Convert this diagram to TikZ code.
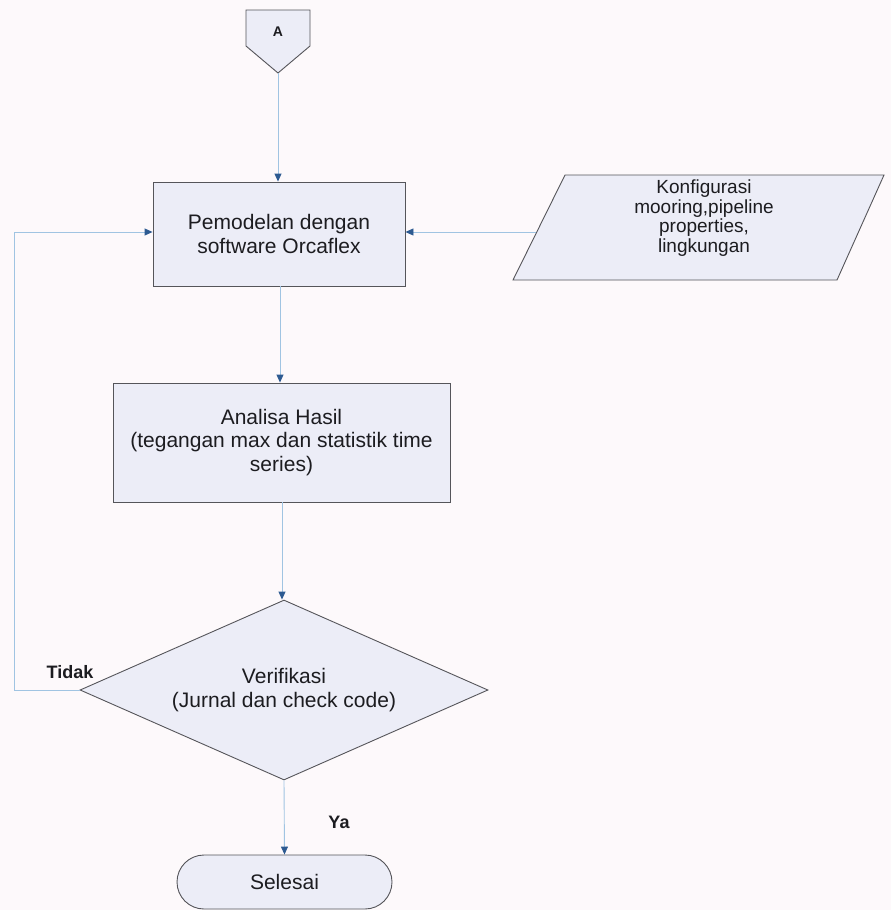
\documentclass[tikz,border=0pt]{standalone}
\usepackage{fontspec}
\setmainfont{Liberation Sans}
\usetikzlibrary{shapes.geometric,arrows.meta}
\definecolor{bgc}{RGB}{253,249,251}
\definecolor{fillc}{RGB}{236,237,247}
\definecolor{edgec}{RGB}{85,85,90}
\definecolor{linec}{RGB}{160,196,226}
\definecolor{tipc}{RGB}{45,90,145}
\definecolor{txtc}{RGB}{28,28,32}
\tikzset{
  x=1pt, y=1pt,
  shapebox/.style={draw=edgec, fill=fillc, line width=0.9pt, text=txtc, align=center, inner sep=0pt},
  procbox/.style={shapebox, rectangle},
  decbox/.style={shapebox, diamond},
  termbox/.style={shapebox, rectangle, rounded corners=27pt},
  bodytext/.style={font=\fontsize{21}{23.5}\selectfont},
  conn/.style={draw=linec, line width=0.9pt, -{Triangle[length=8pt,width=7pt,color=tipc]}},
  plain/.style={draw=linec, line width=0.9pt},
  lbl/.style={text=txtc, font=\bfseries\fontsize{18}{20}\selectfont, inner sep=0pt}
}
\begin{document}
\begin{tikzpicture}
\useasboundingbox (0,0) rectangle (891,-910);
\fill[bgc] (0,0) rectangle (891,-910);

% off-page connector A
\draw[shapebox] (246,-10) -- (310,-10) -- (310,-46) -- (278,-73) -- (246,-46) -- cycle;
\node[text=txtc, font=\bfseries\fontsize{14}{16}\selectfont] (A) at (278,-32) {A};
\coordinate (Atip) at (278,-73);

% process boxes
\node[procbox, bodytext, minimum width=252pt, minimum height=104pt] (model) at (279,-234)
  {Pemodelan dengan\\software Orcaflex};
\node[procbox, bodytext, minimum width=337pt, minimum height=119pt] (hasil) at (281.5,-442.5)
  {Analisa Hasil\\(tegangan max dan statistik time\\series)};

% input parallelogram
\draw[shapebox] (513,-280) -- (565,-175) -- (884,-175) -- (837,-280) -- cycle;
\node[text=txtc, align=center, font=\fontsize{19}{19.5}\selectfont] (input) at (704,-218)
  {Konfigurasi\\mooring,pipeline\\properties,\\lingkungan};
\coordinate (inputL) at (536,-232);

% decision
\node[decbox, bodytext, minimum width=408pt, minimum height=180pt, aspect=2.27] (verif) at (284,-690)
  {Verifikasi\\(Jurnal dan check code)};

% terminal
\node[termbox, bodytext, minimum width=215pt, minimum height=54pt] (end) at (284.5,-882) {Selesai};

% connectors
\draw[conn] (Atip) -- (Atip |- model.north);
\draw[conn] (inputL) -- (model.east |- inputL);
\draw[conn] (model.south -| 280,0) -- (hasil.north -| 280,0);
\draw[conn] (hasil.south -| 282,0) -- (verif.north -| 282,0);
\coordinate (loopB) at (14,-690);
\coordinate (loopT) at (14,-232);
\draw[plain] (verif.west) -- (loopB) -- (loopT);
\draw[conn] (loopT) -- (model.west |- loopT);
\draw[conn] (verif.south) -- (end.north);

% labels
\node[lbl] (tidak) at (70,-672) {Tidak};
\node[lbl] (ya) at (339,-822) {Ya};
\end{tikzpicture}
\end{document}
